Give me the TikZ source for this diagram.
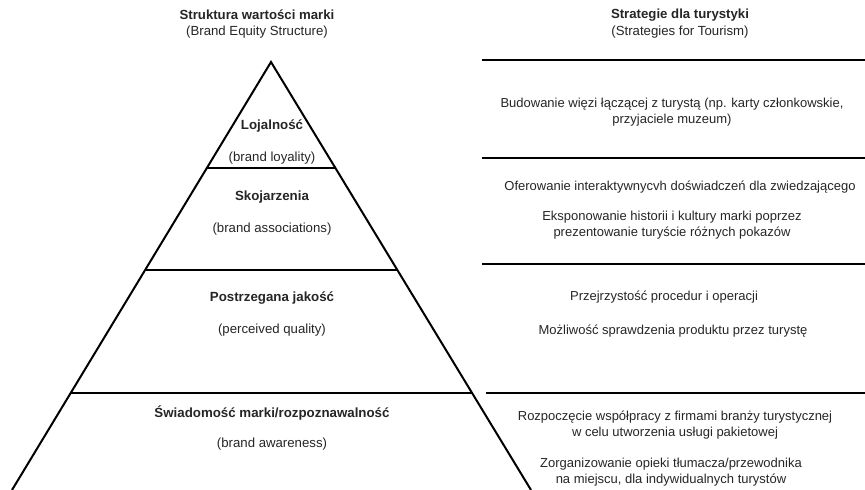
\documentclass[tikz,border=0pt]{standalone}
\usepackage{fontspec}
\setmainfont{Liberation Sans}
\usetikzlibrary{calc}
\begin{document}
\begin{tikzpicture}[x=1pt,y=-1pt,
  edge/.style={line width=2pt,line cap=butt},
  sep/.style={line width=1.6pt},
  head/.style={font=\fontsize{13.2}{15}\selectfont\bfseries,text=black!85,inner sep=0pt},
  sub/.style={font=\fontsize{13.2}{15}\selectfont,text=black!85,inner sep=0pt},
  lvl/.style={font=\fontsize{13.3}{15}\selectfont\bfseries,text=black!85,inner sep=0pt},
  txt/.style={font=\fontsize{13}{16.5}\selectfont,text=black!85,inner sep=0pt,align=center}]
\useasboundingbox[fill=white] (0,0) rectangle (865,490);
% pyramid
\coordinate (apex) at (271,62);
\coordinate (bl) at (12,490);
\coordinate (br) at (531,490);
\draw[edge,line join=miter] (bl) -- (apex) -- (br);
\draw[sep] ($(apex)!0.2477!(bl)$) -- ($(apex)!0.2477!(br)$);
\draw[sep] ($(apex)!0.486!(bl)$) -- ($(apex)!0.486!(br)$);
\draw[sep] ($(apex)!0.7734!(bl)$) -- ($(apex)!0.7734!(br)$);
% right column lines
\coordinate (r0a) at (482,60);  \coordinate (r0b) at (865,60);
\coordinate (r1a) at (482,158); \coordinate (r1b) at (865,158);
\coordinate (r2a) at (482,264); \coordinate (r2b) at (865,264);
\coordinate (r3a) at (486,393); \coordinate (r3b) at (865,393);
\draw[sep] (r0a) -- (r0b);
\draw[sep] (r1a) -- (r1b);
\draw[sep] (r2a) -- (r2b);
\draw[sep] (r3a) -- (r3b);
% titles
\node[head] (t1) at (257,15) {Struktura wartości marki};
\node[sub] (t1s) at (257,32) {(Brand Equity Structure)};
\node[head] (t2) at (680,15) {Strategie dla turystyki};
\node[sub] (t2s) at (680,32) {(Strategies for Tourism)};
% pyramid levels
\node[lvl] (l1) at (272,126) {Lojalność};
\node[sub] (l1s) at (272,158) {(brand loyality)};
\node[lvl] (l2) at (272,197) {Skojarzenia};
\node[sub] (l2s) at (272,229) {(brand associations)};
\node[lvl] (l3) at (272,298) {Postrzegana jakość};
\node[sub] (l3s) at (272,330) {(perceived quality)};
\node[lvl] (l4) at (272,413) {Świadomość marki/rozpoznawalność};
\node[sub] (l4s) at (272,444) {(brand awareness)};
% strategies
\node[txt] (s1) at (672,112) {Budowanie więzi łączącej z turystą (np. karty członkowskie,\\przyjaciele muzeum)};
\node[txt] (s2) at (680,187) {Oferowanie interaktywnycvh doświadczeń dla zwiedzającego};
\node[txt] (s3) at (672,225) {Eksponowanie historii i kultury marki poprzez\\prezentowanie turyście różnych pokazów};
\node[txt] (s4) at (664,297) {Przejrzystość procedur i operacji};
\node[txt] (s5) at (673,331) {Możliwość sprawdzenia produktu przez turystę};
\node[txt] (s6) at (675,425) {Rozpoczęcie współpracy z firmami branży turystycznej\\w celu utworzenia usługi pakietowej};
\node[txt] (s7) at (671,472) {Zorganizowanie opieki tłumacza/przewodnika\\na miejscu, dla indywidualnych turystów};
\end{tikzpicture}
\end{document}
